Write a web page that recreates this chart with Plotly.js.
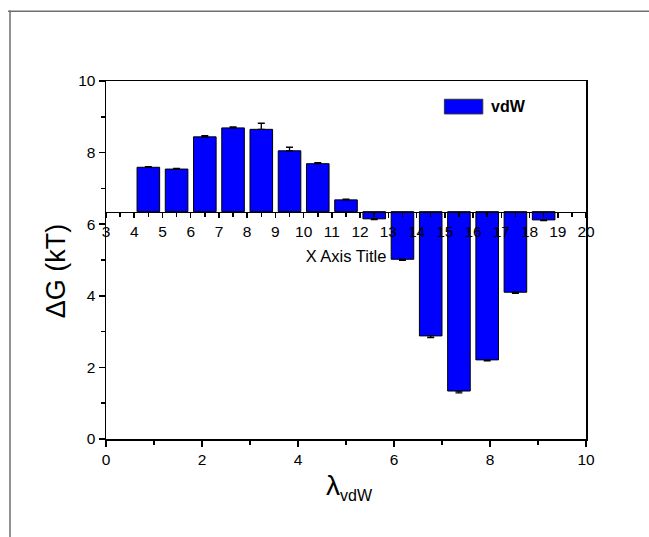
<!DOCTYPE html>
<html>
<head>
<meta charset="utf-8">
<script src="https://cdn.plot.ly/plotly-3.0.1.min.js"></script>
<style>html,body{margin:0;padding:0;background:#fff;}#chart{width:649px;height:537px;}</style>
</head>
<body>
<div id="chart"></div>
<script>
// Data
var lambdaPos = [4.5, 5.5, 6.5, 7.5, 8.5, 9.5, 10.5, 11.5, 12.5, 13.5, 14.5, 15.5, 16.5, 17.5, 18.5];
var dGValues = [7.59, 7.54, 8.44, 8.69, 8.65, 8.05, 7.69, 6.68, 6.15, 5.02, 2.88, 1.34, 2.21, 4.10, 6.12];
var dGErrors = [0.02, 0.02, 0.03, 0.03, 0.17, 0.10, 0.03, 0.02, 0.02, 0.03, 0.05, 0.05, 0.03, 0.03, 0.02];
var barBase = 6.35;
var seriesName = "vdW";
var topTickVals = [3,4,5,6,7,8,9,10,11,12,13,14,15,16,17,18,19,20];

var deltas = dGValues.map(function(v){ return v - barBase; });
var errPlus = dGErrors.map(function(e,i){ return deltas[i] >= 0 ? e : 0; });
var errMinus = dGErrors.map(function(e,i){ return deltas[i] < 0 ? e : 0; });

var FONT = "Liberation Sans, Arial, sans-serif";

var traces = [
  { type:'scatter', x:[], y:[], xaxis:'x', yaxis:'y', showlegend:false, hoverinfo:'skip' },
  {
    type:'bar', name:seriesName, x:lambdaPos, y:deltas, base:barBase,
    xaxis:'x2', yaxis:'y', width:0.8,
    marker:{color:'#0000ff', line:{color:'#000000', width:1}},
    showlegend:false
  },
  {
    type:'scatter', mode:'markers', x:lambdaPos, y:dGValues, xaxis:'x2', yaxis:'y',
    marker:{opacity:0, size:1}, showlegend:false, hoverinfo:'skip',
    error_y:{type:'data', symmetric:false, array:errPlus, arrayminus:errMinus,
             color:'#000000', thickness:1.3, width:3.5}
  }
];

var layout = {
  width:649, height:537,
  margin:{l:106, r:63, t:81, b:98},
  paper_bgcolor:'#ffffff', plot_bgcolor:'#ffffff',
  font:{family:FONT, color:'#000000', size:15},
  showlegend:false,
  xaxis:{
    range:[0,10], dtick:2, tick0:0, ticks:'outside', ticklen:6, tickwidth:1.5,
    tickcolor:'#000', minor:{dtick:1, ticks:'outside', ticklen:4, tickwidth:1.5, tickcolor:'#000'},
    showline:true, linewidth:1.5, linecolor:'#000', mirror:true,
    showgrid:false, zeroline:false, tickfont:{size:15.5, family:FONT}
  },
  xaxis2:{
    overlaying:'x', anchor:'free', position:barBase/10, side:'bottom',
    range:[3,20], tickmode:'array', tickvals:topTickVals, ticks:'outside', ticklen:5, tickwidth:1.5,
    tickcolor:'#000', minor:{dtick:0.5, tick0:3, ticks:'outside', ticklen:4, tickwidth:1.5, tickcolor:'#000'},
    showline:true, linewidth:1.5, linecolor:'#000',
    showgrid:false, zeroline:false, tickfont:{size:15.5, family:FONT},
    title:{text:'X Axis Title', font:{size:16.5, family:FONT}, standoff:11}
  },
  yaxis:{
    range:[0,10], dtick:2, tick0:0, ticks:'outside', ticklen:6, tickwidth:1.5,
    tickcolor:'#000', minor:{dtick:1, ticks:'outside', ticklen:4, tickwidth:1.5, tickcolor:'#000'},
    showline:true, linewidth:1.5, linecolor:'#000', mirror:true,
    showgrid:false, zeroline:false, tickfont:{size:15.5, family:FONT}
  },
  shapes:[
    {type:'line', xref:'paper', yref:'paper', x0:-0.204, x1:1.2, y0:1.195, y1:1.195, line:{color:'#6e6e6e', width:1.5}},
    {type:'line', xref:'paper', yref:'paper', x0:-0.2, x1:-0.2, y0:1.197, y1:-0.3, line:{color:'#6e6e6e', width:1.5}},
    {type:'rect', xref:'paper', yref:'paper', x0:0.705, x1:0.785, y0:0.908, y1:0.949,
     fillcolor:'#0000ff', line:{color:'#333', width:1}}
  ],
  annotations:[
    {xref:'paper', yref:'paper', x:0.798, y:0.9285, xanchor:'left', yanchor:'middle',
     text:'<b>'+seriesName+'</b>', showarrow:false, font:{size:16, family:FONT}},
    {xref:'paper', yref:'paper', x:-0.104, y:0.469, xanchor:'center', yanchor:'middle',
     text:'ΔG (kT)', textangle:-90, showarrow:false, font:{size:27, family:FONT}},
    {xref:'paper', yref:'paper', x:0.508, y:-0.135, xanchor:'center', yanchor:'middle',
     text:'λ<sub><span style="font-size:16px">vdW</span></sub>', showarrow:false, font:{size:28, family:FONT}}
  ]
};

Plotly.newPlot('chart', traces, layout, {staticPlot:true, displayModeBar:false});
</script>
</body>
</html>
